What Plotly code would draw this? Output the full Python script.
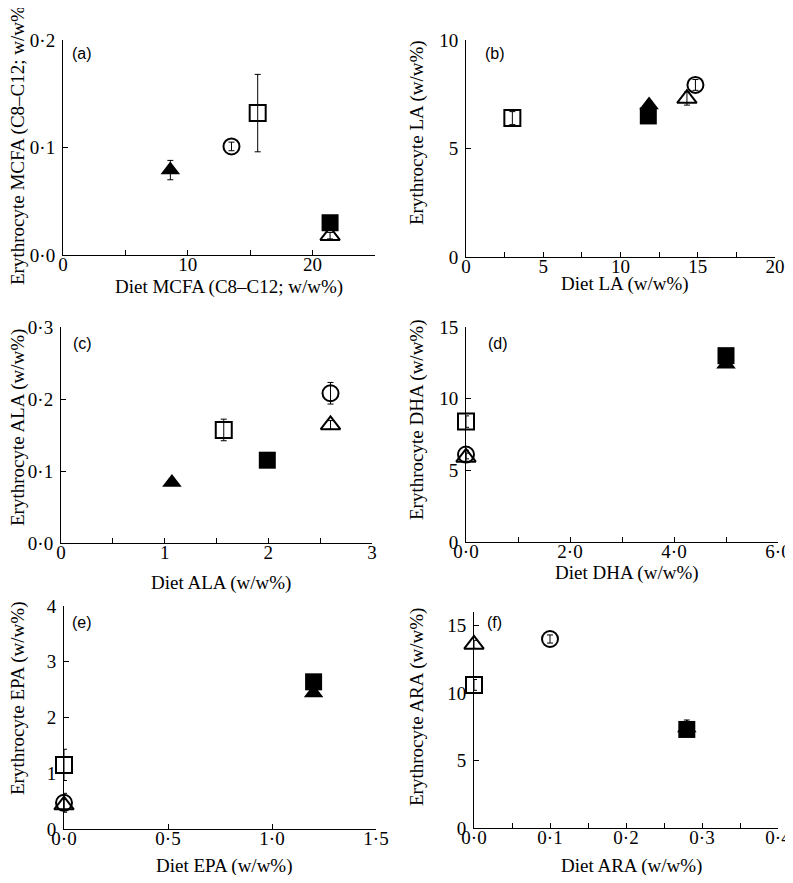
import plotly.graph_objects as go

# The page places the figure 8 px in from the window's top-left corner,
# so the figure is sized to fit the 793x883 window and screen pixels are
# converted to figure pixels by subtracting that offset.
WIN_W, WIN_H = 793, 883
OFF = 8
W, H = WIN_W - 2 * OFF, WIN_H - 2 * OFF

# group order: filled triangle, open circle, open square, filled square, open triangle
groups = ["filled_triangle", "open_circle", "open_square", "filled_square", "open_triangle"]

a_x = [8.6, 13.5, 15.6, 21.4, 21.4]
a_y = [0.079, 0.101, 0.132, 0.030, 0.018]
a_e = [0.009, 0.004, 0.036, 0.003, 0.003]

b_x = [11.85, 14.85, 3.0, 11.8, 14.3]
b_y = [7.0, 7.93, 6.4, 6.5, 7.3]
b_e = [0.2, 0.25, 0.3, 0.2, 0.3]

c_x = [1.07, 2.6, 1.57, 1.99, 2.6]
c_y = [0.084, 0.208, 0.157, 0.115, 0.164]
c_e = [0.003, 0.015, 0.015, 0.004, 0.006]

d_x = [5.0, 0.0, 0.0, 5.0, 0.0]
d_y = [12.4, 6.1, 8.4, 13.0, 5.9]
d_e = [0.2, 0.3, 0.4, 0.3, 0.3]

e_x = [1.2, 0.0, 0.0, 1.2, 0.0]
e_y = [2.44, 0.47, 1.15, 2.64, 0.43]
e_e = [0.05, 0.17, 0.28, 0.1, 0.1]

f_x = [0.28, 0.1, 0.0, 0.28, 0.0]
f_y = [7.4, 14.0, 10.6, 7.3, 13.6]
f_e = [0.6, 0.3, 0.4, 0.3, 0.3]

panels = [
    dict(lab="(a)", x=a_x, y=a_y, e=a_e,
         xt="Diet MCFA (C8–C12; w/w%)", yt="Erythrocyte MCFA (C8–C12; w/w%)",
         xr=[0, 25], yr=[0, 0.2],
         xtv=[0, 5, 10, 15, 20, 25], xtt=["0", "", "10", "", "20", ""],
         ytv=[0, 0.1, 0.2], ytt=["0·0", "0·1", "0·2"],
         px=(63, 375, 40, 255), xtc=(229, 287), ytc=(18, 143), labp=(82, 53)),
    dict(lab="(b)", x=b_x, y=b_y, e=b_e,
         xt="Diet LA (w/w%)", yt="Erythrocyte LA (w/w%)",
         xr=[0, 20], yr=[0, 10],
         xtv=[0, 2.5, 5, 7.5, 10, 12.5, 15, 17.5, 20], xtt=["0", "", "5", "", "10", "", "15", "", "20"],
         ytv=[0, 5, 10], ytt=["0", "5", "10"],
         px=(466, 775, 40, 257), xtc=(625, 284), ytc=(417, 133), labp=(495, 53)),
    dict(lab="(c)", x=c_x, y=c_y, e=c_e,
         xt="Diet ALA (w/w%)", yt="Erythrocyte ALA (w/w%)",
         xr=[0, 3], yr=[0, 0.3],
         xtv=[0, 0.5, 1, 1.5, 2, 2.5, 3], xtt=["0", "", "1", "", "2", "", "3"],
         ytv=[0, 0.1, 0.2, 0.3], ytt=["0·0", "0·1", "0·2", "0·3"],
         px=(61, 372, 327, 543), xtc=(221, 583), ytc=(18, 428), labp=(82, 343)),
    dict(lab="(d)", x=d_x, y=d_y, e=d_e,
         xt="Diet DHA (w/w%)", yt="Erythrocyte DHA (w/w%)",
         xr=[0, 6], yr=[0, 15],
         xtv=[0, 1, 2, 3, 4, 5, 6], xtt=["0·0", "", "2·0", "", "4·0", "", "6·0"],
         ytv=[0, 5, 10, 15], ytt=["0", "5", "10", "15"],
         px=(466, 778, 327, 542), xtc=(627, 573), ytc=(417, 420), labp=(498, 343)),
    dict(lab="(e)", x=e_x, y=e_y, e=e_e,
         xt="Diet EPA (w/w%)", yt="Erythrocyte EPA (w/w%)",
         xr=[0, 1.5], yr=[0, 4],
         xtv=[0, 0.5, 1.0, 1.5], xtt=["0·0", "0·5", "1·0", "1·5"],
         ytv=[0, 1, 2, 3, 4], ytt=["0", "1", "2", "3", "4"],
         px=(64, 376, 606, 829), xtc=(225, 866), ytc=(18, 698), labp=(82, 622)),
    dict(lab="(f)", x=f_x, y=f_y, e=f_e,
         xt="Diet ARA (w/w%)", yt="Erythrocyte ARA (w/w%)",
         xr=[0, 0.4], yr=[0, 16],
         xtv=[0, 0.05, 0.1, 0.15, 0.2, 0.25, 0.3, 0.35, 0.4],
         xtt=["0·0", "", "0·1", "", "0·2", "", "0·3", "", "0·4"],
         ytv=[0, 5, 10, 15], ytt=["0", "5", "10", "15"],
         px=(474, 778, 612, 828), xtc=(631, 866), ytc=(417, 707), labp=(494, 622)),
]

styles = {
    "open_triangle": dict(symbol="triangle-up", size=17, color="rgba(255,255,255,0)",
                          line=dict(color="black", width=2)),
    "open_circle": dict(symbol="circle", size=16, color="rgba(255,255,255,0)",
                        line=dict(color="black", width=2)),
    "open_square": dict(symbol="square", size=16, color="rgba(255,255,255,0)",
                        line=dict(color="black", width=2)),
    "filled_triangle": dict(symbol="triangle-up", size=17, color="black",
                            line=dict(color="black", width=0)),
    "filled_square": dict(symbol="square", size=17, color="black",
                          line=dict(color="black", width=0)),
}
draw_order = ["open_triangle", "open_circle", "open_square", "filled_triangle", "filled_square"]


def fx(px):
    return (px - OFF) / W


def fy(py):
    return 1 - (py - OFF) / H


fig = go.Figure()
annotations = []
serif = "Liberation Serif"

for i, p in enumerate(panels, start=1):
    xa = "x" if i == 1 else f"x{i}"
    ya = "y" if i == 1 else f"y{i}"
    for g in draw_order:
        k = groups.index(g)
        fig.add_trace(go.Scatter(
            x=[p["x"][k]], y=[p["y"][k]], mode="markers",
            marker=styles[g],
            error_y=dict(type="data", array=[p["e"][k]], color="black", thickness=1, width=3),
            xaxis=xa, yaxis=ya, showlegend=False, cliponaxis=False,
        ))
    x0, x1, y0, y1 = p["px"]
    axcommon = dict(showline=True, linecolor="black", linewidth=1, ticks="inside",
                    ticklen=5, tickcolor="black", showgrid=False, zeroline=False,
                    automargin=False, ticklabeloverflow="allow",
                    tickfont=dict(family=serif, size=19, color="black"), fixedrange=True)
    fig.layout[f"xaxis{'' if i == 1 else i}"] = dict(
        domain=[fx(x0), fx(x1)], anchor=ya, range=p["xr"], ticklabelstandoff=-8,
        tickmode="array", tickvals=p["xtv"], ticktext=p["xtt"], **axcommon)
    fig.layout[f"yaxis{'' if i == 1 else i}"] = dict(
        domain=[fy(y1), fy(y0)], anchor=xa, range=p["yr"], ticklabelstandoff=3,
        tickmode="array", tickvals=p["ytv"], ticktext=p["ytt"], **axcommon)
    annotations.append(dict(text=p["xt"], x=fx(p["xtc"][0]), y=fy(p["xtc"][1]),
                            xref="paper", yref="paper", showarrow=False,
                            xanchor="center", yanchor="middle",
                            font=dict(family=serif, size=19, color="black")))
    annotations.append(dict(text=p["yt"], x=fx(p["ytc"][0]), y=fy(p["ytc"][1]),
                            xref="paper", yref="paper", showarrow=False, textangle=-90,
                            xanchor="center", yanchor="middle",
                            font=dict(family=serif, size=19, color="black")))
    annotations.append(dict(text=p["lab"], x=fx(p["labp"][0]), y=fy(p["labp"][1]),
                            xref="paper", yref="paper", showarrow=False,
                            xanchor="center", yanchor="middle",
                            font=dict(family="Liberation Sans", size=16, color="black")))

fig.update_layout(width=W, height=H,
                  margin=dict(l=0, r=0, t=0, b=0, pad=0, autoexpand=False),
                  paper_bgcolor="white", plot_bgcolor="white",
                  annotations=annotations)

fig.write_html("out.html")
